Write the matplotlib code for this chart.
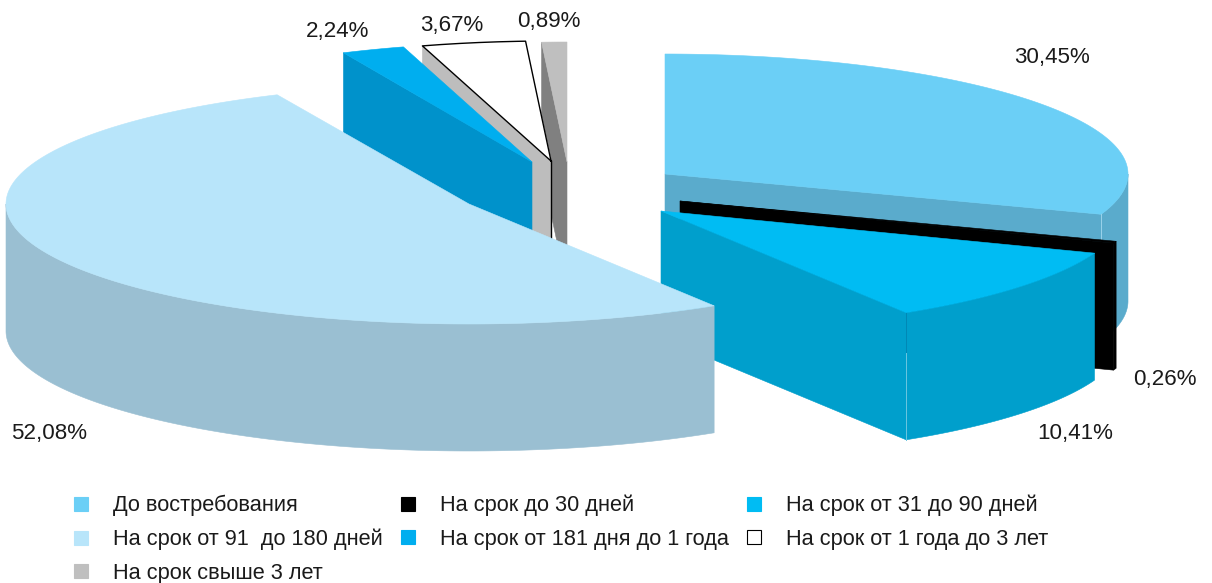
import numpy as np
import matplotlib
matplotlib.use('Agg')
import matplotlib.pyplot as plt
from matplotlib.lines import Line2D
from matplotlib.patches import Polygon

plt.rcParams['font.family'] = ['Liberation Sans', 'DejaVu Sans']

# Data
categories = ['До востребования', 'На срок до 30 дней', 'На срок от 31 до 90 дней',
              'На срок от 91  до 180 дней', 'На срок от 181 дня до 1 года',
              'На срок от 1 года до 3 лет', 'На срок свыше 3 лет']
shares = [30.45, 0.26, 10.41, 52.08, 2.24, 3.67, 0.89]

# Colours for every slice
top_colors = ['#6BCFF6', '#000000', '#00BCF3', '#B8E5FA', '#00AEEF', '#FFFFFF', '#BFBFBF']
side_colors = ['#5AABCC', '#000000', '#009FCC', '#9ABFD2', '#0092CB', '#BDBDBD', '#808080']

# Layout in pixels: exploded centre of each slice, ellipse radii, height of the pie
centers = [(665, 174), (680, 201), (661, 211), (469, 204), (532, 162), (551, 161), (567, 162)]
radii_x = [463, 463, 463, 463, 455, 455, 455]
label_pos = [(1052, 57), (1165, 379), (1075, 433), (49, 433), (338, 31), (452, 25), (549, 21)]
ry = 120
depth = 127

fig = plt.figure(figsize=(12.12, 5.83), dpi=100)
ax = fig.add_axes([0, 0, 1, 1])
ax.set_xlim(0, 1212)
ax.set_ylim(583, 0)
ax.axis('off')


def arc(center, rx, start, end):
    # angles in degrees, clockwise from 12 o'clock
    t = np.radians(np.linspace(start, end, 200))
    return np.column_stack([center[0] + rx * np.sin(t), center[1] - ry * np.cos(t)])


def fill(points, color, z):
    ax.add_patch(Polygon(points, closed=True, facecolor=color, edgecolor=color, linewidth=0.4, zorder=z))


edges = np.cumsum([0] + shares) / sum(shares) * 360
# back to front
draw_order = [0, 1, 2, 6, 5, 4, 3]

for z, i in enumerate(draw_order):
    start, end = edges[i], edges[i + 1]
    c = centers[i]
    rx = radii_x[i]
    outer = arc(c, rx, start, end)
    drop = np.array([0, depth])
    base = z * 10 + 1

    # flat cut faces seen from the front
    if 180 < start < 360:
        fill([c, outer[0], outer[0] + drop, np.array(c) + drop], side_colors[i], base)
    if 0 < end < 180:
        fill([c, outer[-1], outer[-1] + drop, np.array(c) + drop], side_colors[i], base)

    # outer rim, only the front half of the ellipse
    a0, a1 = max(start, 90), min(end, 270)
    if a0 < a1:
        rim = arc(c, rx, a0, a1)
        fill(np.vstack([rim, rim[::-1] + drop]), side_colors[i], base + 1)

    # top face
    fill(np.vstack([c, outer]), top_colors[i], base + 2)

    if top_colors[i] == '#FFFFFF':
        ax.plot(*np.vstack([c, outer, c]).T, color='black', lw=1, zorder=base + 3)
        ax.plot([c[0], c[0]], [c[1], c[1] + depth], color='black', lw=1, zorder=base + 3)

# thin seams between cut face and rim
seam = arc(centers[0], radii_x[0], edges[1], edges[1])[0]
ax.plot([seam[0], seam[0]], [seam[1], seam[1] + depth], color='#9AD3EA', lw=0.7, zorder=3)
seam = arc(centers[2], radii_x[2], edges[3], edges[3])[0]
ax.plot([seam[0], seam[0]], [seam[1], seam[1] + 40], color='#0088B5', lw=0.7, zorder=25)
ax.plot([seam[0], seam[0]], [seam[1] + 40, seam[1] + depth], color='#6CC6E0', lw=0.7, zorder=25)

for value, (x, y) in zip(shares, label_pos):
    ax.text(x, y, f'{value:.2f}'.replace('.', ',') + '%', fontsize=16.1, color='#1A1A1A',
            ha='center', va='center', zorder=200)

# legend is filled column by column, so list the entries in that order
legend_order = [0, 3, 6, 1, 4, 2, 5]
handles = []
for i in legend_order:
    handles.append(Line2D([], [], linestyle='None', marker='s', markersize=10.2,
                          markerfacecolor=top_colors[i],
                          markeredgecolor='black' if top_colors[i] == '#FFFFFF' else top_colors[i],
                          markeredgewidth=0.8, label=categories[i]))

ax.legend(handles=handles, ncol=3, loc='upper left', bbox_to_anchor=(73.5, 495),
          bbox_transform=ax.transData, frameon=False, fontsize=15.65, labelcolor='#1A1A1A',
          borderpad=0, borderaxespad=0, handlelength=0.7, handletextpad=1.12,
          columnspacing=0.8, labelspacing=0.57, numpoints=1)

plt.savefig('out.png', dpi=100)
